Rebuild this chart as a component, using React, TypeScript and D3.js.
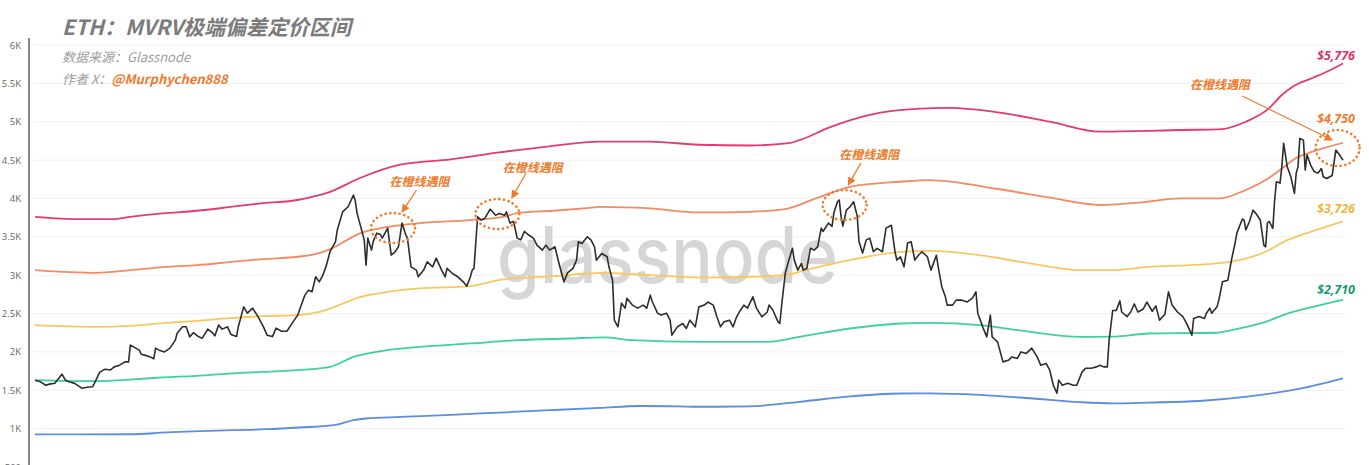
import React, { useEffect } from "react";
import * as d3 from "d3";

const W = 1369;
const H = 465;

// y ticks
const yTicks = [500, 1000, 1500, 2000, 2500, 3000, 3500, 4000, 4500, 5000, 5500, 6000];
const yTickLabels = ["500", "1K", "1.5K", "2K", "2.5K", "3K", "3.5K", "4K", "4.5K", "5K", "5.5K", "6K"];

// ETH price: [day since start, USD]
const ethPrice: [number, number][] = [
  [0, 1632], [3, 1610], [6, 1566], [8, 1580], [11, 1592], [15, 1710], [17, 1630], [19, 1610], [22, 1590],
  [26, 1527], [29, 1540], [32, 1545], [33, 1590], [36, 1736], [39, 1775], [42, 1765], [44, 1805], [47, 1827],
  [50, 1870], [52, 1870], [53, 2088], [56, 2049], [58, 2023], [59, 1970], [61, 1958], [64, 1935], [66, 1910],
  [67, 2049], [69, 2023], [72, 2000], [75, 2049], [78, 2153], [79, 2244], [82, 2327], [84, 2327], [86, 2196],
  [88, 2250], [91, 2196], [93, 2179], [96, 2297], [99, 2240], [100, 2210], [102, 2349], [104, 2297], [107, 2327],
  [109, 2226], [112, 2200], [113, 2327], [116, 2587], [118, 2505], [121, 2570], [124, 2457], [127, 2327],
  [129, 2218], [132, 2200], [134, 2310], [137, 2270], [140, 2270], [143, 2375], [146, 2479], [148, 2610],
  [150, 2740], [152, 2805], [154, 2785], [156, 2979], [158, 2913], [160, 3000], [162, 3131], [164, 3310],
  [167, 3435], [168, 3587], [171, 3826], [174, 3892], [177, 4044], [178, 3970], [179, 3809], [182, 3548],
  [183, 3457], [184, 3131], [185, 3483], [187, 3327], [188, 3440], [190, 3548], [192, 3530], [193, 3483],
  [196, 3613], [198, 3262], [200, 3300], [202, 3370], [204, 3679], [206, 3530], [207, 3483], [209, 3109],
  [212, 3066], [213, 2979], [216, 3066], [218, 3174], [221, 3109], [223, 3222], [226, 3066], [228, 2979],
  [229, 3088], [232, 3022], [235, 2979], [238, 2913], [240, 2857], [242, 2979], [243, 3066], [244, 3088],
  [246, 3761], [248, 3718], [250, 3740], [253, 3860], [256, 3780], [258, 3805], [261, 3780], [262, 3826],
  [264, 3679], [266, 3700], [268, 3483], [270, 3460], [272, 3570], [274, 3530], [277, 3483], [279, 3392],
  [282, 3327], [284, 3392], [286, 3327], [289, 3370], [291, 3174], [293, 3000], [294, 2913], [296, 3030],
  [299, 3088], [301, 3196], [302, 3435], [304, 3413], [307, 3500], [309, 3460], [311, 3370], [312, 3196],
  [315, 3283], [318, 3240], [319, 3109], [321, 2935], [322, 2414], [324, 2327], [326, 2636], [328, 2570],
  [329, 2700], [332, 2610], [335, 2570], [338, 2610], [340, 2570], [342, 2740], [343, 2660], [346, 2505],
  [348, 2480], [351, 2505], [353, 2414], [354, 2218], [357, 2327], [360, 2370], [362, 2305], [364, 2414],
  [367, 2327], [369, 2587], [372, 2610], [374, 2650], [377, 2610], [379, 2457], [381, 2327], [383, 2392],
  [386, 2414], [388, 2327], [390, 2457], [392, 2540], [394, 2610], [396, 2570], [399, 2718], [401, 2570],
  [404, 2457], [407, 2520], [408, 2610], [410, 2550], [413, 2392], [414, 2370], [415, 2610], [417, 3022],
  [419, 3196], [421, 3350], [422, 3196], [424, 3066], [426, 3153], [427, 3066], [429, 3088], [431, 3350],
  [433, 3327], [435, 3370], [437, 3613], [438, 3570], [441, 3679], [443, 3635], [444, 3809], [446, 3957],
  [447, 3979], [448, 3770], [449, 3640], [451, 3848], [453, 3892], [455, 3957], [457, 3770], [458, 3435],
  [460, 3288], [462, 3460], [464, 3480], [466, 3305], [468, 3350], [471, 3305], [473, 3613], [476, 3650],
  [478, 3305], [479, 3196], [481, 3240], [483, 3109], [485, 3418], [487, 3435], [489, 3196], [491, 3260],
  [493, 3305], [496, 3240], [498, 3066], [501, 3260], [502, 3109], [504, 2850], [506, 2718], [507, 2610],
  [510, 2610], [512, 2675], [515, 2675], [518, 2650], [521, 2700], [523, 2783], [524, 2505], [527, 2310],
  [529, 2196], [531, 2479], [532, 2196], [533, 2175], [535, 2131], [538, 1870], [541, 1890], [543, 1935],
  [546, 1915], [548, 2000], [551, 1980], [554, 2049], [557, 1935], [559, 1827], [562, 1850], [564, 1762],
  [566, 1566], [568, 1462], [569, 1632], [571, 1566], [574, 1590], [577, 1566], [579, 1566], [582, 1740],
  [584, 1788], [587, 1788], [590, 1805], [592, 1827], [594, 1805], [596, 1805], [597, 2150], [599, 2540],
  [601, 2540], [603, 2665], [604, 2520], [607, 2460], [609, 2520], [611, 2625], [613, 2520], [616, 2560],
  [618, 2650], [621, 2530], [623, 2600], [625, 2414], [628, 2490], [630, 2783], [632, 2610], [635, 2520],
  [638, 2460], [640, 2375], [643, 2218], [644, 2435], [647, 2460], [650, 2435], [651, 2500], [653, 2570],
  [654, 2505], [657, 2590], [658, 2675], [660, 2913], [663, 2935], [665, 3196], [667, 3418], [668, 3548],
  [671, 3730], [672, 3720], [673, 3590], [675, 3700], [677, 3848], [679, 3790], [681, 3720], [683, 3392],
  [684, 3370], [685, 3680], [686, 3700], [688, 3610], [689, 3979], [690, 4218], [692, 4200], [693, 4413],
  [694, 4720], [696, 4413], [698, 4283], [700, 4066], [701, 4330], [702, 4413], [703, 4783], [705, 4760],
  [706, 4370], [707, 4570], [709, 4435], [711, 4350], [713, 4330], [715, 4390], [716, 4283], [718, 4260],
  [721, 4300], [723, 4630], [725, 4570], [727, 4500],
];

// MVRV deviation pricing bands: [day, USD]
const bandTop: [number, number][] = [
  [0, 3760], [25, 3730], [43, 3730], [53, 3760], [71, 3805], [90, 3840], [108, 3887], [127, 3940],
  [146, 3980], [154, 4020], [164, 4087], [181, 4270], [203, 4440], [231, 4510], [258, 4600], [286, 4680],
  [314, 4740], [342, 4740], [369, 4700], [397, 4690], [419, 4720], [425, 4760], [442, 4930], [464, 5090],
  [492, 5170], [508, 5180], [536, 5120], [564, 5000], [592, 4870], [619, 4880], [636, 4892], [658, 4900],
  [673, 5000], [686, 5178], [693, 5348], [699, 5457], [710, 5570], [718, 5652], [727, 5760],
];
const bandUpper: [number, number][] = [
  [0, 3066], [34, 3030], [53, 3066], [71, 3105], [90, 3131], [108, 3170], [127, 3210], [146, 3240],
  [158, 3288], [164, 3340], [181, 3548], [196, 3630], [214, 3679], [242, 3718], [260, 3760], [269, 3813],
  [288, 3840], [307, 3875], [314, 3890], [342, 3870], [369, 3818], [397, 3826], [416, 3857], [434, 4000],
  [453, 4152], [481, 4218], [497, 4240], [536, 4120], [564, 4010], [592, 3915], [619, 3960], [636, 4000],
  [658, 4000], [673, 4110], [684, 4240], [692, 4370], [701, 4527], [710, 4610], [719, 4674], [727, 4726],
];
const bandMid: [number, number][] = [
  [0, 2349], [34, 2327], [53, 2340], [71, 2375], [90, 2405], [108, 2440], [127, 2466], [146, 2479],
  [158, 2522], [164, 2566], [181, 2718], [196, 2783], [214, 2827], [242, 2857], [260, 2944], [288, 2987],
  [307, 3022], [314, 3030], [342, 3000], [369, 2970], [397, 2979], [416, 3000], [434, 3100], [453, 3196],
  [481, 3305], [497, 3318], [525, 3262], [553, 3153], [581, 3066], [599, 3066], [619, 3109], [642, 3131],
  [664, 3174], [684, 3305], [696, 3457], [712, 3587], [727, 3700],
];
const bandLower: [number, number][] = [
  [0, 1632], [34, 1618], [53, 1640], [71, 1667], [90, 1688], [108, 1718], [127, 1740], [146, 1762],
  [164, 1805], [177, 1935], [196, 2023], [214, 2066], [242, 2110], [269, 2153], [297, 2175], [316, 2190],
  [332, 2153], [369, 2131], [407, 2131], [425, 2196], [453, 2305], [481, 2370], [497, 2379], [525, 2349],
  [553, 2262], [581, 2196], [599, 2200], [619, 2240], [656, 2250], [669, 2305], [684, 2392], [696, 2500],
  [712, 2596], [727, 2680],
];
const bandBottom: [number, number][] = [
  [0, 925], [53, 927], [73, 950], [92, 967], [110, 980], [129, 993], [147, 1015], [166, 1045], [177, 1110],
  [184, 1132], [203, 1153], [231, 1180], [258, 1210], [286, 1240], [314, 1270], [336, 1295], [358, 1290],
  [369, 1285], [397, 1290], [425, 1350], [453, 1420], [481, 1458], [497, 1460], [525, 1440], [553, 1396],
  [581, 1345], [599, 1330], [619, 1340], [647, 1360], [675, 1420], [703, 1520], [727, 1655],
];

// end labels
const endLabels = ["$5,776", "$4,750", "$3,726", "$2,710"];
const endLabelValues = [5776, 4750, 3726, 2710];

// annotations (data coords)
const annoText = "在橙线遇阻";
const annoTextPos: [number, number][] = [[197, 4161], [260, 4340], [447, 4520], [642, 5430]];
const annoArrowFrom: [number, number][] = [[212, 4109], [273, 4331], [459, 4461], [671, 5335]];
const annoArrowTo: [number, number][] = [[204, 3822], [265, 4005], [452, 4174], [721, 4761]];
const annoCircle: [number, number][] = [[199, 3614], [257, 3796], [450, 3914], [724, 4657]];

const C_TOP = "#e43a73";
const C_UP = "#f38a62";
const C_MID = "#f8c760";
const C_LOW = "#3fd09f";
const C_BOT = "#5b8de0";
const C_ORANGE = "#ef7a2c";

export default function App() {
  useEffect(() => {
    document.body.style.margin = "0";
  }, []);

  const x = d3.scaleLinear().domain([0, 727]).range([35, 1343]);
  const y = d3.scaleLinear().domain([500, 6000]).range([467, 45]);

  const bandLine = d3
    .line<[number, number]>()
    .x((d) => x(d[0]))
    .y((d) => y(d[1]))
    .curve(d3.curveMonotoneX);
  const priceLine = d3
    .line<[number, number]>()
    .x((d) => x(d[0]))
    .y((d) => y(d[1]));

  const bands = [
    { data: bandBottom, color: C_BOT },
    { data: bandLower, color: C_LOW },
    { data: bandMid, color: C_MID },
    { data: bandUpper, color: C_UP },
    { data: bandTop, color: C_TOP },
  ];

  const labelColors = ["#d8336d", C_ORANGE, "#f1b43a", "#169a6c"];
  const labelOffsets = [-2, -18, -6, -3];

  const cjk = "'Noto Sans CJK SC', 'Noto Sans', sans-serif";
  const latin = "'Open Sans', 'Noto Sans', sans-serif";

  return (
    <svg
      width={W}
      height={H}
      style={{ display: "block", position: "absolute", left: 0, top: 0, background: "#fff" }}
    >
      <defs>
        <marker id="ah" viewBox="0 0 10 10" refX="9" refY="5" markerWidth="7" markerHeight="7" orient="auto">
          <path d="M0,0 L10,5 L0,10 z" fill={C_ORANGE} />
        </marker>
      </defs>

      {/* grid */}
      {yTicks.map((t) => (
        <line key={"g" + t} x1={33} x2={1345} y1={y(t)} y2={y(t)} stroke="#f0f0f0" strokeWidth={1} />
      ))}

      {/* watermark */}
      <text
        x={497}
        y={283}
        fontFamily="Inter, 'Open Sans', sans-serif"
        fontWeight={500}
        fontSize={78}
        fill="#cfcfcf"
        opacity={0.85}
        textLength={341}
        lengthAdjust="spacingAndGlyphs"
      >
        glassnode
      </text>

      {/* bands */}
      {bands.map((b, i) => (
        <path key={"b" + i} d={bandLine(b.data) || ""} fill="none" stroke={b.color} strokeWidth={1.8} />
      ))}

      {/* price */}
      <path d={priceLine(ethPrice) || ""} fill="none" stroke="#2d2d2d" strokeWidth={1.6} strokeLinejoin="round" />

      {/* annotations */}
      {annoCircle.map((c, i) => (
        <ellipse
          key={"e" + i}
          cx={x(c[0])}
          cy={y(c[1])}
          rx={22}
          ry={i === 3 ? 18 : 15}
          fill="none"
          stroke={C_ORANGE}
          strokeWidth={2.6}
          strokeDasharray="0.1 4.6"
          strokeLinecap="round"
        />
      ))}
      {annoArrowFrom.map((f, i) => (
        <line
          key={"a" + i}
          x1={x(f[0])}
          y1={y(f[1])}
          x2={x(annoArrowTo[i][0])}
          y2={y(annoArrowTo[i][1])}
          stroke={C_ORANGE}
          strokeWidth={1.2}
          markerEnd="url(#ah)"
        />
      ))}
      {annoTextPos.map((p, i) => (
        <text
          key={"t" + i}
          x={x(p[0])}
          y={y(p[1])}
          fontFamily={cjk}
          fontSize={12}
          fontWeight={700}
          fontStyle="italic"
          fill={C_ORANGE}
        >
          {annoText}
        </text>
      ))}

      {/* end labels */}
      {endLabels.map((l, i) => (
        <text
          key={"l" + i}
          x={1355}
          y={y(endLabelValues[i]) + labelOffsets[i]}
          textAnchor="end"
          fontFamily={latin}
          fontSize={12.5}
          fontWeight={700}
          fontStyle="italic"
          fill={labelColors[i]}
        >
          {l}
        </text>
      ))}

      {/* y axis */}
      <line x1={29} x2={29} y1={38} y2={H} stroke="#555" strokeWidth={1.4} />
      {yTicks.map((t, i) => (
        <text
          key={"y" + t}
          x={21}
          y={y(t) + 3.5}
          textAnchor="end"
          fontFamily={latin}
          fontSize={9.5}
          fill="#666"
        >
          {yTickLabels[i]}
        </text>
      ))}

      {/* title block */}
      <text x={62} y={35} fontFamily={cjk} fontSize={21} fontWeight={700} fontStyle="italic" fill="#7b7b7b">
        ETH：MVRV极端偏差定价区间
      </text>
      <text x={62} y={62} fontFamily={cjk} fontSize={13} fontStyle="italic" fill="#9d9d9d">
        数据来源：Glassnode
      </text>
      <text x={62} y={84} fontFamily={cjk} fontSize={13} fontStyle="italic" fill="#9d9d9d">
        作者 X：
        <tspan fill={C_ORANGE} fontWeight={700}>
          @Murphychen888
        </tspan>
      </text>
    </svg>
  );
}
